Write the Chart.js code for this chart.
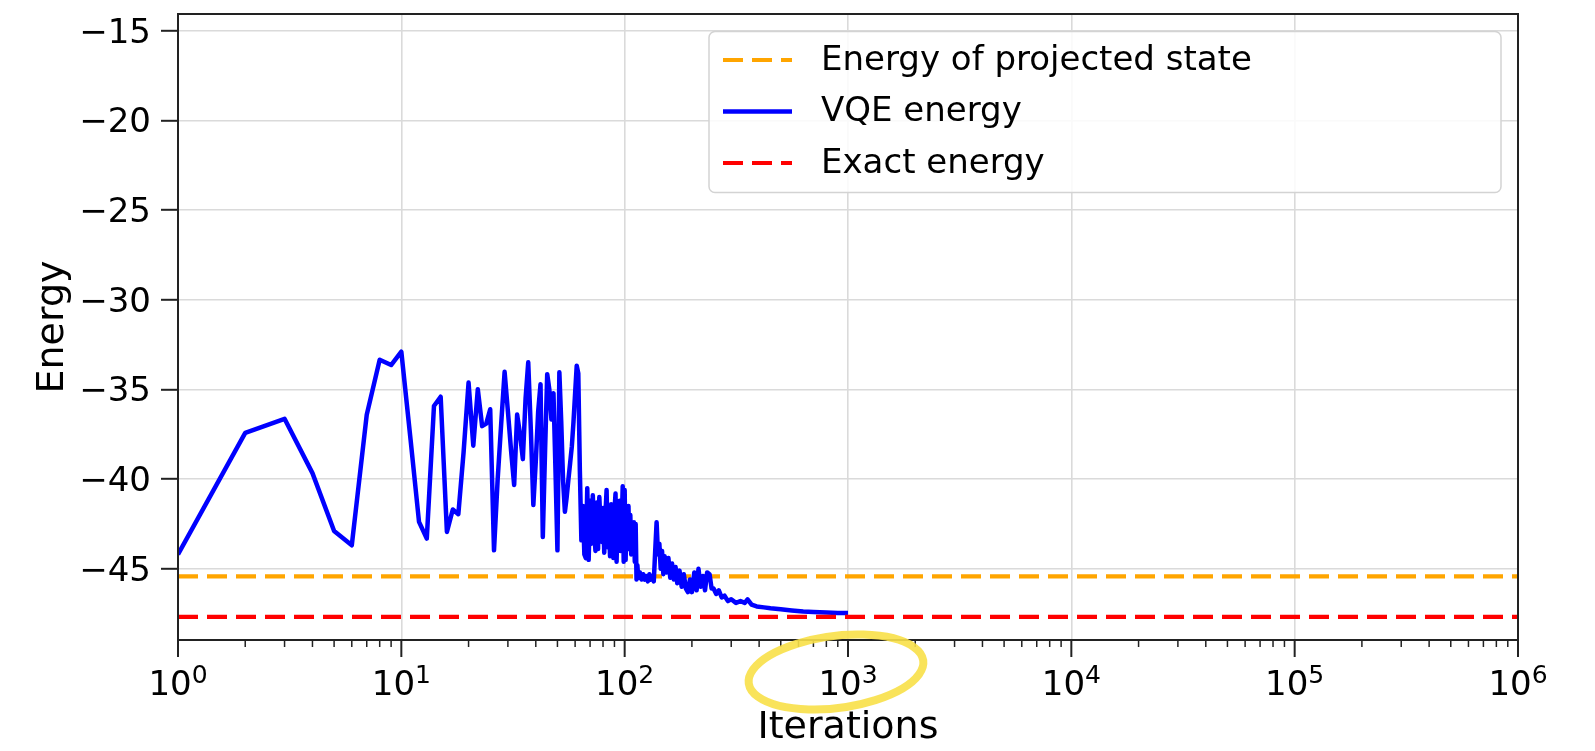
<!DOCTYPE html>
<html>
<head>
<meta charset="utf-8">
<script src="https://cdn.jsdelivr.net/npm/chart.js@4.4.1/dist/chart.umd.min.js"></script>
<style>
  html, body { margin: 0; padding: 0; background: #fff; }
  canvas { display: block; }
</style>
</head>
<body>
<canvas id="chart" width="1595" height="751"></canvas>
<script>
// data
const seriesLabels = ['Energy of projected state', 'VQE energy', 'Exact energy']

const vqeIter = [
  1, 2, 3, 4, 5, 6, 7, 8, 9, 10,
  11, 12, 13, 14, 15, 16, 17, 18, 19, 20,
  21, 22, 23, 24, 25, 26, 27, 28, 29, 30,
  31, 32, 33, 34, 35, 36, 37, 38, 39, 40,
  41, 42, 43, 44, 45, 46, 47, 48, 49, 50,
  51, 52, 53, 54, 55, 56, 57, 58, 59, 60,
  61, 62, 63, 64, 65, 66, 67, 68, 69, 70,
  71, 72, 73, 74, 75, 76, 77, 78, 79, 80,
  81, 82, 83, 84, 85, 86, 87, 88, 89, 90,
  91, 92, 93, 94, 95, 96, 97, 98, 99, 100,
  101, 102, 103, 104, 105, 106, 107, 108, 109, 110,
  111, 112, 113, 114, 115, 117, 119, 121, 123, 125,
  127, 129, 131, 133, 135, 137, 139, 141, 143, 145,
  147, 149, 151, 154, 157, 160, 163, 166, 169, 172,
  176, 180, 184, 188, 192, 196, 200, 205, 210, 214,
  219, 224, 229, 234, 240, 245, 250, 257, 264, 272,
  280, 290, 300, 315, 330, 345, 355, 370, 390, 420,
  450, 500, 560, 630, 700, 800, 900, 1000
]
const vqeEnergy = [
  -44.2, -37.42, -36.63, -39.66, -42.89, -43.69, -36.4, -33.34, -33.63, -32.89,
  -37.8, -42.38, -43.31, -35.92, -35.4, -42.94, -41.69, -41.95, -38.5, -34.61,
  -38.13, -34.98, -37.04, -36.9, -36.1, -43.97, -40.0, -36.9, -34.01, -36.2,
  -38.4, -40.32, -36.39, -37.5, -38.88, -35.5, -33.48, -37.2, -41.44, -39.0,
  -36.2, -34.7, -43.22, -38.5, -34.14, -35.0, -36.67, -35.2, -39.5, -43.97,
  -34.04, -36.8, -40.1, -41.82, -41.0, -40.0, -39.1, -38.17, -36.8, -35.2,
  -33.67, -34.1, -39.5, -43.41, -41.5, -44.2, -44.4, -40.5, -44.5, -41.2,
  -43.6, -40.9, -42.8, -44.0, -41.3, -43.9, -41.0, -42.5, -43.5, -41.6,
  -44.1, -42.0, -40.6, -43.8, -42.3, -44.3, -41.4, -43.0, -44.4, -41.8,
  -40.8, -44.6, -42.1, -43.7, -41.2, -44.0, -42.6, -40.4, -44.6, -40.6,
  -44.5, -41.8, -43.2, -41.5, -43.9, -42.0, -44.2, -42.6, -43.5, -42.4,
  -44.6, -42.5, -45.6, -44.8, -45.5, -45.2, -45.6, -45.3, -45.6, -45.4,
  -45.7, -45.3, -45.6, -45.4, -45.7, -44.0, -42.4, -44.2, -43.6, -45.0,
  -44.0, -45.3, -44.3, -45.2, -44.4, -45.5, -44.7, -45.6, -44.9, -45.8,
  -45.1, -46.0, -45.3, -46.1, -46.3, -45.6, -46.3, -45.2, -46.2, -45.0,
  -46.0, -45.4, -46.2, -45.2, -45.3, -46.1, -46.1, -46.4, -46.2, -46.6,
  -46.5, -46.8, -46.7, -46.9, -46.8, -46.9, -46.7, -47.0, -47.1, -47.15,
  -47.2, -47.25, -47.32, -47.38, -47.41, -47.44, -47.46, -47.47
]
const projectedEnergy = -45.42
const exactEnergy = -47.68

const xRange = [1, 1e6]
const xTicks = [1, 10, 100, 1000, 10000, 100000, 1000000]
const xTickExp = ['0', '1', '2', '3', '4', '5', '6']
const yRange = [-48.97, -14.05]
const yTicks = [-45, -40, -35, -30, -25, -20, -15]

const FONT = "'DejaVu Sans', sans-serif"
const chartCanvas = document.getElementById('chart')

// spines, log ticks, x labels, legend and the yellow marker
const decorations = {
  id: 'decorations',
  afterDraw(chart) {
    const ctx = chart.ctx
    const area = chart.chartArea
    const xs = chart.scales.x
    ctx.save()

    function seg(x1, y1, x2, y2, w) {
      ctx.lineWidth = w
      ctx.beginPath(); ctx.moveTo(x1, y1); ctx.lineTo(x2, y2); ctx.stroke()
    }

    ctx.strokeStyle = '#222'
    ctx.lineWidth = 2
    ctx.strokeRect(area.left, area.top, area.right - area.left, area.bottom - area.top)

    xTicks.forEach((v, i) => {
      const px = xs.getPixelForValue(v)
      ctx.strokeStyle = '#222'
      seg(px, area.bottom, px, area.bottom + 17, 2)
      if (i < xTicks.length - 1) {
        for (let k = 2; k < 10; k++) {
          const mx = xs.getPixelForValue(v * k)
          seg(mx, area.bottom, mx, area.bottom + 7, 1.5)
        }
      }
      ctx.font = `34px ${FONT}`
      const wBase = ctx.measureText('10').width
      ctx.font = `25px ${FONT}`
      const wExp = ctx.measureText(xTickExp[i]).width
      const x0 = px - (wBase + wExp) / 2
      ctx.fillStyle = '#000'
      ctx.textAlign = 'left'
      ctx.textBaseline = 'alphabetic'
      ctx.font = `34px ${FONT}`
      ctx.fillText('10', x0, area.bottom + 55)
      ctx.font = `25px ${FONT}`
      ctx.fillText(xTickExp[i], x0 + wBase, area.bottom + 43)
    })

    // legend box
    const bw = 792, bh = 161
    const bx = area.right - 17 - bw, by = area.top + 17.5
    ctx.beginPath()
    ctx.roundRect(bx, by, bw, bh, 6)
    ctx.fillStyle = 'rgba(255,255,255,0.85)'
    ctx.fill()
    ctx.strokeStyle = '#d3d3d3'
    ctx.lineWidth = 1.5
    ctx.stroke()
    chart.data.datasets.forEach((ds, i) => {
      const ry = by + 28.5 + i * 51.5
      ctx.strokeStyle = ds.borderColor
      ctx.setLineDash(ds.borderDash || [])
      ctx.lineCap = 'butt'
      seg(bx + 14, ry, bx + 83, ry, ds.borderWidth)
      ctx.setLineDash([])
      ctx.fillStyle = '#000'
      ctx.font = `34px ${FONT}`
      ctx.textBaseline = 'middle'
      ctx.fillText(ds.label, bx + 112, ry + 1)
    })

    // hand-drawn yellow circle round 10^3
    ctx.strokeStyle = 'rgba(248,224,72,0.9)'
    ctx.lineWidth = 8
    ctx.lineCap = 'round'
    ctx.beginPath()
    ctx.ellipse(xs.getPixelForValue(1000) - 12, area.bottom + 32, 88, 36, -0.13, -1.2, 2 * Math.PI - 1.0)
    ctx.stroke()
    ctx.restore()
  }
}

let chart = new Chart(chartCanvas, {
  type: 'line',
  data: {
    datasets: [
      {
        label: seriesLabels[0],
        data: xRange.map(x => ({ x: x, y: projectedEnergy })),
        borderColor: '#ffa500',
        borderDash: [20, 9],
        borderWidth: 4.2,
        pointRadius: 0,
        order: 2
      },
      {
        label: seriesLabels[1],
        data: vqeIter.map((x, i) => ({ x: x, y: vqeEnergy[i] })),
        borderColor: '#0000ff',
        borderWidth: 4.5,
        borderJoinStyle: 'round',
        pointRadius: 0,
        order: 1
      },
      {
        label: seriesLabels[2],
        data: xRange.map(x => ({ x: x, y: exactEnergy })),
        borderColor: '#ff0000',
        borderDash: [20, 9],
        borderWidth: 4.2,
        pointRadius: 0,
        order: 0
      }
    ]
  },
  options: {
    responsive: false,
    animation: false,
    devicePixelRatio: 1,
    layout: { padding: { left: 0, right: 77, top: 14, bottom: 0 } },
    plugins: { legend: { display: false }, tooltip: { enabled: false } },
    scales: {
      x: {
        type: 'logarithmic',
        min: xRange[0],
        max: xRange[1],
        afterBuildTicks: s => { s.ticks = xTicks.map(v => ({ value: v })) },
        afterFit: s => { s.height = 111; s.paddingLeft = 0; s.paddingRight = 0 },
        ticks: { display: false },
        grid: { color: '#dadada', lineWidth: 1.6, drawTicks: false },
        border: { display: false },
        title: {
          display: true, text: 'Iterations', color: '#000',
          font: { family: FONT, size: 38 }, padding: { top: 0, bottom: 0 }
        }
      },
      y: {
        type: 'linear',
        min: yRange[0],
        max: yRange[1],
        afterBuildTicks: s => { s.ticks = yTicks.map(v => ({ value: v })) },
        afterFit: s => { s.width = 178; s.paddingTop = 0; s.paddingBottom = 0 },
        ticks: {
          color: '#000', padding: 10, labelOffset: 3,
          font: { family: FONT, size: 34 },
          callback: v => '\u2212' + Math.abs(v)
        },
        grid: { color: '#dadada', lineWidth: 1.6, tickLength: 17, tickColor: '#222', tickWidth: 2 },
        border: { display: false },
        title: {
          display: true, text: 'Energy', color: '#000',
          font: { family: FONT, size: 38 }, padding: { top: 30, bottom: 0 }
        }
      }
    }
  },
  plugins: [decorations]
})
</script>
</body>
</html>
